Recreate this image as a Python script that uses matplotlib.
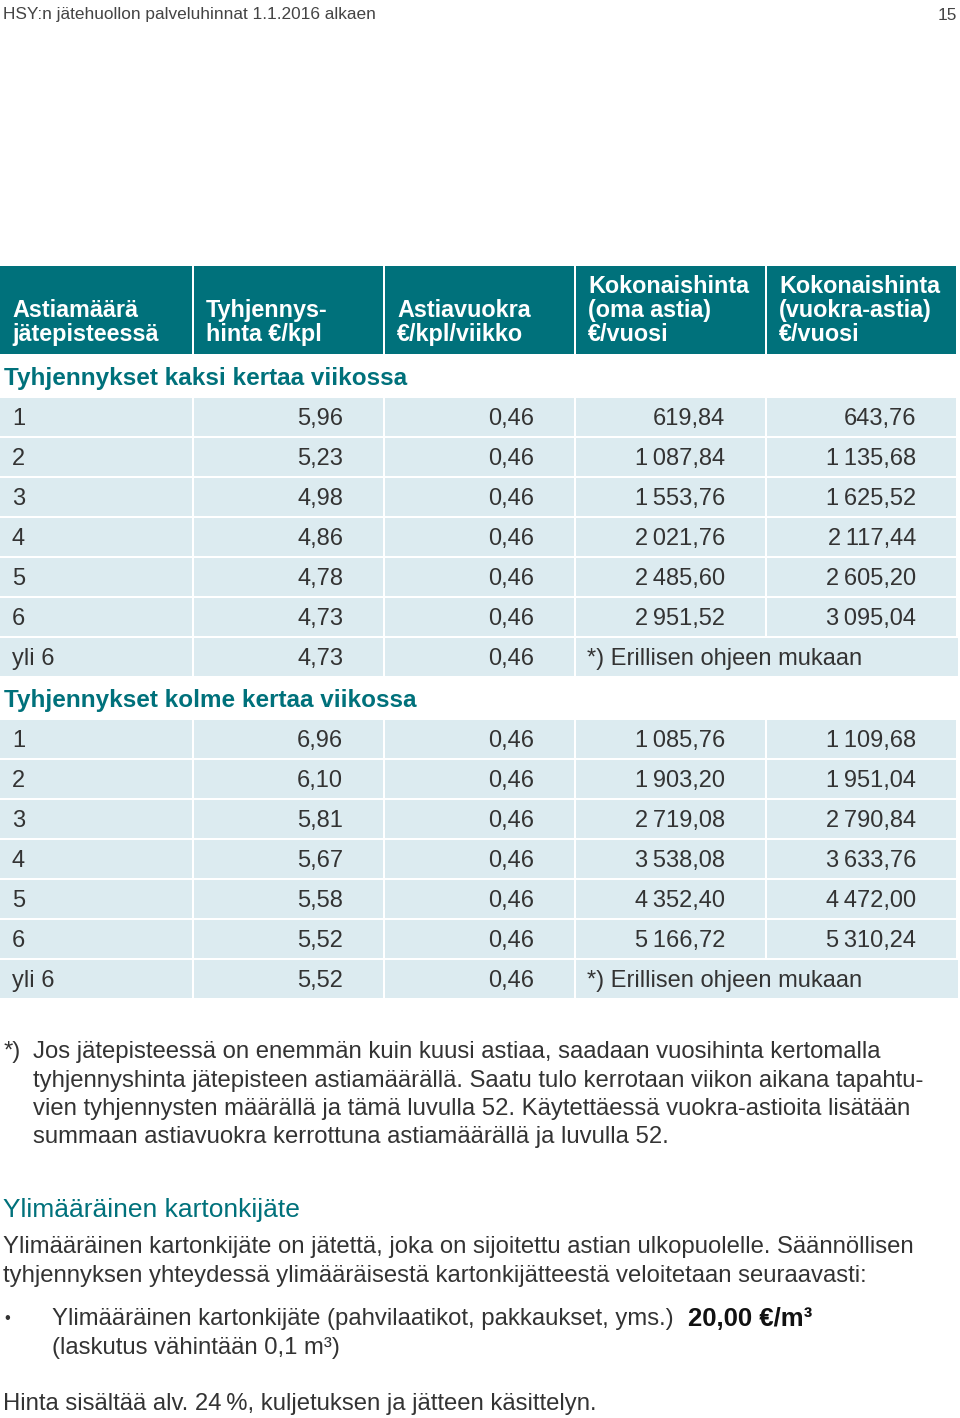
import matplotlib.pyplot as plt
from matplotlib.patches import Rectangle

# table data
columns = ['Astiamäärä\njätepisteessä', 'Tyhjennys-\nhinta €/kpl', 'Astiavuokra\n€/kpl/viikko',
           'Kokonaishinta\n(oma astia)\n€/vuosi', 'Kokonaishinta\n(vuokra-astia)\n€/vuosi']
counts = ['1', '2', '3', '4', '5', '6', 'yli 6']
rent = [0.46, 0.46, 0.46, 0.46, 0.46, 0.46, 0.46]

twice_title = 'Tyhjennykset kaksi kertaa viikossa'
twice_price = [5.96, 5.23, 4.98, 4.86, 4.78, 4.73, 4.73]
twice_own = [619.84, 1087.84, 1553.76, 2021.76, 2485.60, 2951.52, None]
twice_rent = [643.76, 1135.68, 1625.52, 2117.44, 2605.20, 3095.04, None]

thrice_title = 'Tyhjennykset kolme kertaa viikossa'
thrice_price = [6.96, 6.10, 5.81, 5.67, 5.58, 5.52, 5.52]
thrice_own = [1085.76, 1903.20, 2719.08, 3538.08, 4352.40, 5166.72, None]
thrice_rent = [1109.68, 1951.04, 2790.84, 3633.76, 4472.00, 5310.24, None]

separate = '*) Erillisen ohjeen mukaan'

TEAL = '#00717b'
ROW = '#dcebf0'
TXT = '#333333'
SANS = ['Liberation Sans', 'DejaVu Sans']

col_x = [0, 194, 385, 576, 767, 958]


def fi(v):
    s = f'{v:,.2f}'
    return s.replace(',', ' ').replace('.', ',').replace(' ', '\u2009')


fig = plt.figure(figsize=(9.6, 14.18), dpi=100)
ax = fig.add_axes([0, 0, 1, 1])
ax.set_xlim(0, 960)
ax.set_ylim(1418, 0)
ax.axis('off')

ax.text(3, 15, 'HSY:n jätehuollon palveluhinnat 1.1.2016 alkaen', family=SANS,
        fontsize=12.4, color='#444444', va='center')
ax.text(957, 15, '15', family=SANS, fontsize=12.4, color='#444444', va='center', ha='right')

# header
for i, name in enumerate(columns):
    x0, x1 = col_x[i], col_x[i + 1] - 2
    ax.add_patch(Rectangle((x0, 266), x1 - x0, 88, color=TEAL, lw=0))
    ax.text(x0 + 12, 346, name, family=SANS, weight='bold', fontsize=16.8,
            color='white', va='bottom', linespacing=1.05)


def section(title, y_title, y0, price, own, rentals):
    ax.text(4, y_title, title, family=SANS, weight='bold', fontsize=17.5, color=TEAL, va='center')
    for r, cnt in enumerate(counts):
        top = y0 + r * 40
        yc = top + 21
        for i in range(5):
            if own[r] is None and i == 4:
                continue
            x0 = col_x[i]
            x1 = col_x[i + 1] - 2
            if own[r] is None and i == 3:
                x1 = col_x[5]
            ax.add_patch(Rectangle((x0, top), x1 - x0, 38, color=ROW, lw=0))
        ax.text(12, yc, cnt, family=SANS, fontsize=17, color=TXT, va='center')
        ax.text(col_x[2] - 42, yc, f'{price[r]:.2f}'.replace('.', ','), family=SANS,
                fontsize=17, color=TXT, va='center', ha='right')
        ax.text(col_x[3] - 42, yc, f'{rent[r]:.2f}'.replace('.', ','), family=SANS,
                fontsize=17, color=TXT, va='center', ha='right')
        if own[r] is None:
            ax.text(col_x[3] + 11, yc, separate, family=SANS, fontsize=17, color=TXT, va='center')
        else:
            ax.text(col_x[4] - 42, yc, fi(own[r]), family=SANS, fontsize=17,
                    color=TXT, va='center', ha='right')
            ax.text(col_x[5] - 42, yc, fi(rentals[r]), family=SANS, fontsize=17,
                    color=TXT, va='center', ha='right')


section(twice_title, 378, 398, twice_price, twice_own, twice_rent)
section(thrice_title, 700, 720, thrice_price, thrice_own, thrice_rent)

BODY = 17.2
note = ['Jos jätepisteessä on enemmän kuin kuusi astiaa, saadaan vuosihinta kertomalla',
        'tyhjennyshinta jätepisteen astiamäärällä. Saatu tulo kerrotaan viikon aikana tapahtu-',
        'vien tyhjennysten määrällä ja tämä luvulla 52. Käytettäessä vuokra-astioita lisätään',
        'summaan astiavuokra kerrottuna astiamäärällä ja luvulla 52.']
ax.text(4, 1052, '*)', family=SANS, fontsize=BODY, color=TXT, va='center')
for k, line in enumerate(note):
    ax.text(33, 1052 + k * 28.5, line, family=SANS, fontsize=BODY, color=TXT, va='center')

ax.text(3, 1210, 'Ylimääräinen kartonkijäte', family=SANS, fontsize=19, color=TEAL, va='center')
ax.text(3, 1247, 'Ylimääräinen kartonkijäte on jätettä, joka on sijoitettu astian ulkopuolelle. Säännöllisen',
        family=SANS, fontsize=BODY, color=TXT, va='center')
ax.text(3, 1276, 'tyhjennyksen yhteydessä ylimääräisestä kartonkijätteestä veloitetaan seuraavasti:',
        family=SANS, fontsize=BODY, color=TXT, va='center')
ax.text(4, 1319, '•', family=SANS, fontsize=12, color=TXT, va='center')
item = ax.text(52, 1319, 'Ylimääräinen kartonkijäte (pahvilaatikot, pakkaukset, yms.)',
               family=SANS, fontsize=BODY, color=TXT, va='center')
fig.canvas.draw()
bb = item.get_window_extent().transformed(ax.transData.inverted())
ax.text(max(bb.x0, bb.x1) + 14, 1319, '20,00 €/m³', family=SANS, weight='bold', fontsize=18.5,
        color='#111111', va='center')
ax.text(52, 1348, '(laskutus vähintään 0,1 m³)', family=SANS, fontsize=BODY, color=TXT, va='center')
ax.text(3, 1404, 'Hinta sisältää alv. 24\u2009%, kuljetuksen ja jätteen käsittelyn.',
        family=SANS, fontsize=BODY, color=TXT, va='center')

fig.savefig('out.png', dpi=100)
